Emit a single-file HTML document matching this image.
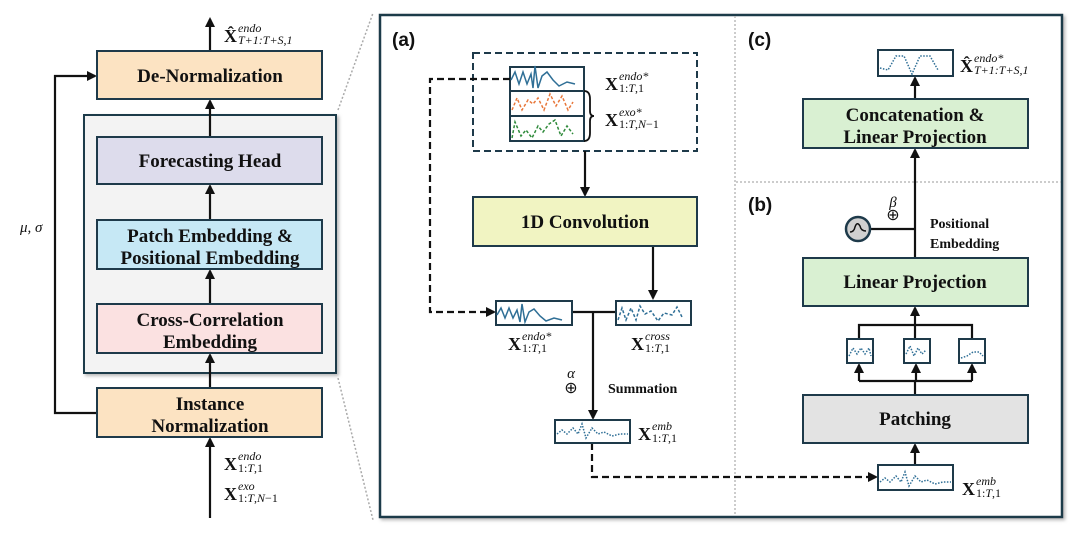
<!DOCTYPE html>
<html><head><meta charset="utf-8"><style>
html,body{margin:0;padding:0;background:#fff;}
svg{display:block;}
.b{font-family:"Liberation Serif",serif;font-weight:bold;font-size:19px;fill:#111;text-anchor:middle;}
.s{font-family:"Liberation Serif",serif;font-weight:bold;font-size:14px;fill:#111;}
.m{font-family:"Liberation Serif",serif;fill:#111;}
.X{font-family:"Liberation Serif",serif;font-weight:bold;font-size:18px;fill:#111;}
.sp{font-family:"Liberation Serif",serif;font-style:italic;font-size:12px;fill:#111;}
.sb{font-family:"Liberation Serif",serif;font-size:12px;fill:#111;}
.lbl{font-family:"Liberation Sans",sans-serif;font-weight:bold;font-size:19px;fill:#111;}
</style></head><body>
<svg width="1080" height="535" viewBox="0 0 1080 535" xmlns="http://www.w3.org/2000/svg">
<defs>
<marker id="ah" markerWidth="10" markerHeight="10" refX="8" refY="5" orient="auto" markerUnits="userSpaceOnUse"><path d="M0,0 L10,5 L0,10 z" fill="#111"/></marker>
<filter id="sh" x="-5%" y="-5%" width="115%" height="115%"><feDropShadow dx="2" dy="2" stdDeviation="1.5" flood-color="#888" flood-opacity="0.6"/></filter>
</defs>
<rect x="84" y="115" width="252" height="258" fill="#f3f3f3" stroke="#1e3a4a" stroke-width="2" filter="url(#sh)"/>
<g stroke="#111" stroke-width="2.2" fill="none">
<line x1="210" y1="51" x2="210" y2="19" marker-end="url(#ah)"/>
<polyline points="97,413 55,413 55,76 95,76" marker-end="url(#ah)"/>
<line x1="210" y1="137" x2="210" y2="101" marker-end="url(#ah)"/>
<line x1="210" y1="220" x2="210" y2="186" marker-end="url(#ah)"/>
<line x1="210" y1="304" x2="210" y2="271" marker-end="url(#ah)"/>
<line x1="210" y1="388" x2="210" y2="355" marker-end="url(#ah)"/>
<line x1="210" y1="518" x2="210" y2="439" marker-end="url(#ah)"/>
</g>
<g stroke="#aaa" stroke-width="1.5" stroke-dasharray="2,2">
<line x1="338" y1="110" x2="373" y2="13"/>
<line x1="338" y1="378" x2="373" y2="520"/>
</g>
<g stroke="#1e3a4a" stroke-width="2">
<rect x="97" y="51" width="225" height="48" fill="#fce3c2"/>
<rect x="97" y="137" width="225" height="47" fill="#dddcec"/>
<rect x="97" y="220" width="225" height="49" fill="#c6e8f5"/>
<rect x="97" y="304" width="225" height="49" fill="#fbe1e1"/>
<rect x="97" y="388" width="225" height="49" fill="#fce3c2"/>
</g>
<text class="b" x="210" y="82">De-Normalization</text>
<text class="b" x="210" y="167">Forecasting Head</text>
<text class="b" x="210" y="242">Patch Embedding &amp;</text>
<text class="b" x="210" y="264">Positional Embedding</text>
<text class="b" x="210" y="326">Cross-Correlation</text>
<text class="b" x="210" y="348">Embedding</text>
<text class="b" x="210" y="410">Instance</text>
<text class="b" x="210" y="432">Normalization</text>
<text class="m" x="20" y="232" font-size="15" font-style="italic">μ, σ</text>
<text class="X" x="224" y="42">X̂</text><text class="sp" x="238" y="32">endo</text><text class="sp" x="238" y="44">T+1:T+S,1</text>
<text class="X" x="224" y="470">X</text><text class="sp" x="238" y="460">endo</text><text class="sb" x="238" y="472">1:<tspan font-style="italic">T</tspan>,1</text>
<text class="X" x="224" y="500">X</text><text class="sp" x="238" y="490">exo</text><text class="sb" x="238" y="502">1:<tspan font-style="italic">T</tspan>,<tspan font-style="italic">N</tspan>−1</text>

<rect x="380" y="15" width="682" height="502" fill="#fff" stroke="#1e3a4a" stroke-width="2.5" filter="url(#sh)"/>
<g stroke="#bbb" stroke-width="1.5" stroke-dasharray="2,2">
<line x1="735" y1="16" x2="735" y2="516"/>
<line x1="736" y1="182" x2="1061" y2="182"/>
</g>
<text class="lbl" x="392" y="46">(a)</text>
<text class="lbl" x="748" y="46">(c)</text>
<text class="lbl" x="748" y="211">(b)</text>

<rect x="473" y="53" width="224" height="98" fill="none" stroke="#1e3a4a" stroke-width="2" stroke-dasharray="7,4"/>
<g stroke="#1e3a4a" stroke-width="2" fill="#fff">
<rect x="510" y="67" width="74" height="24"/>
<rect x="510" y="91" width="74" height="25"/>
<rect x="510" y="116" width="74" height="25"/>
</g>
<path d="M511,80 l4,-8 l4,12 l4,-12 l4,12 l4,-10 l2,14 l2,-22 l3,22 l4,-12 l5,-4 l6,8 l6,6 l8,-4 l8,2" stroke="#2f6f96" stroke-width="1.5" fill="none"/>
<path d="M512,110 l5,-12 l5,12 l6,-10 l5,4 l5,-6 l6,12 l6,-16 l6,12 l6,-10 l6,14 l5,-8" stroke="#e8773a" stroke-width="1.5" fill="none" stroke-dasharray="3,2"/>
<path d="M512,138 l3,-16 l6,14 l5,-6 l6,8 l6,-12 l5,6 l6,-8 l6,-4 l6,16 l6,-10 l6,8" stroke="#2e8a3a" stroke-width="1.5" fill="none" stroke-dasharray="3,2"/>
<path d="M584,91 q6,0 6,8 v12 q0,5 4,5 q-4,0 -4,5 v12 q0,8 -6,8" stroke="#111" stroke-width="1.8" fill="none"/>
<text class="X" x="605" y="90">X</text><text class="sp" x="619" y="80">endo*</text><text class="sb" x="619" y="92">1:<tspan font-style="italic">T</tspan>,1</text>
<text class="X" x="605" y="126">X</text><text class="sp" x="619" y="116">exo*</text><text class="sb" x="619" y="128">1:<tspan font-style="italic">T</tspan>,<tspan font-style="italic">N</tspan>−1</text>
<g stroke="#111" stroke-width="2.2" fill="none">
<line x1="585" y1="151" x2="585" y2="195" marker-end="url(#ah)"/>
<line x1="653" y1="246" x2="653" y2="298" marker-end="url(#ah)"/>
<line x1="572" y1="312" x2="616" y2="312"/>
<line x1="593" y1="312" x2="593" y2="418" marker-end="url(#ah)"/>
<polyline points="510,79 430,79 430,312 494,312" stroke-dasharray="7,4" marker-end="url(#ah)"/>
<polyline points="592,443 592,477 876,477" stroke-dasharray="7,4" marker-end="url(#ah)"/>
</g>
<rect x="473" y="197" width="224" height="49" fill="#f1f4c2" stroke="#1e3a4a" stroke-width="2"/>
<text class="b" x="585" y="228">1D Convolution</text>
<g stroke="#1e3a4a" stroke-width="2" fill="#fff">
<rect x="496" y="301" width="76" height="24"/>
<rect x="616" y="301" width="75" height="24"/>
<rect x="555" y="420" width="75" height="23"/>
</g>
<path d="M497,315 l4,-7 l4,10 l4,-10 l4,10 l4,-8 l3,12 l2,-18 l3,18 l4,-10 l5,-3 l6,7 l6,5 l8,-3 l8,2" stroke="#2f6f96" stroke-width="1.5" fill="none"/>
<path d="M618,320 l4,-12 l4,12 l5,-12 l5,12 l4,-14 l5,8 l6,-3 l7,10 l6,-8 l8,2 l5,-8 l5,10" stroke="#2f6f96" stroke-width="1.5" fill="none" stroke-dasharray="3,2"/>
<path d="M557,434 l5,-4 l5,4 l6,-6 l5,6 l4,-10 l4,14 l6,-10 l6,6 l6,-2 l8,4 l8,-2 l8,0" stroke="#2f6f96" stroke-width="1.5" fill="none" stroke-dasharray="1.5,1.5"/>
<text class="X" x="508" y="350">X</text><text class="sp" x="522" y="340">endo*</text><text class="sb" x="522" y="352">1:<tspan font-style="italic">T</tspan>,1</text>
<text class="X" x="631" y="350">X</text><text class="sp" x="645" y="340">cross</text><text class="sb" x="645" y="352">1:<tspan font-style="italic">T</tspan>,1</text>
<text class="m" x="571" y="378" font-size="15" font-style="italic" text-anchor="middle">α</text>
<text class="m" x="571" y="393" font-size="16" text-anchor="middle">⊕</text>
<text class="s" x="608" y="393">Summation</text>
<text class="X" x="638" y="440">X</text><text class="sp" x="652" y="430">emb</text><text class="sb" x="652" y="442">1:<tspan font-style="italic">T</tspan>,1</text>

<g stroke="#111" stroke-width="2.2" fill="none">
<line x1="915" y1="99" x2="915" y2="78" marker-end="url(#ah)"/>
<line x1="915" y1="258" x2="915" y2="150" marker-end="url(#ah)"/>
<line x1="870" y1="229" x2="915" y2="229"/>
<line x1="915" y1="325" x2="915" y2="308" marker-end="url(#ah)"/>
<polyline points="859,339 859,325 972,325 972,339"/>
<line x1="915" y1="339" x2="915" y2="325"/>
<line x1="915" y1="395" x2="915" y2="381"/>
<line x1="859" y1="381" x2="972" y2="381"/>
<line x1="859" y1="381" x2="859" y2="365" marker-end="url(#ah)"/>
<line x1="916" y1="381" x2="916" y2="365" marker-end="url(#ah)"/>
<line x1="972" y1="381" x2="972" y2="365" marker-end="url(#ah)"/>
<line x1="915" y1="465" x2="915" y2="445" marker-end="url(#ah)"/>
</g>
<g stroke="#1e3a4a" stroke-width="2">
<rect x="878" y="50" width="75" height="26" fill="#fff"/>
<rect x="803" y="99" width="225" height="49" fill="#d9f0d2"/>
<rect x="803" y="258" width="225" height="48" fill="#d9f0d2"/>
<rect x="803" y="395" width="225" height="48" fill="#e3e3e3"/>
<rect x="878" y="465" width="75" height="25" fill="#fff"/>
<rect x="847" y="339" width="26" height="24" fill="#fff"/>
<rect x="904" y="339" width="26" height="24" fill="#fff"/>
<rect x="959" y="339" width="26" height="24" fill="#fff"/>
</g>
<path d="M880,68 l8,2 l8,-14 l8,0 l8,18 l8,-18 l10,0 l8,14" stroke="#2f6f96" stroke-width="1.5" fill="none" stroke-dasharray="1.5,1.5"/>
<path d="M880,482 l5,-4 l5,4 l6,-6 l5,6 l4,-10 l4,14 l6,-10 l6,6 l6,-2 l8,4 l8,-2 l8,0" stroke="#2f6f96" stroke-width="1.5" fill="none" stroke-dasharray="1.5,1.5"/>
<path d="M849,356 l4,-8 l4,6 l4,-6 l4,6 l4,-6 l2,8 M906,354 l4,-8 l4,10 l4,-8 l4,6 l4,-4 M961,358 l6,-2 l6,-4 l6,0 l4,4" stroke="#2f6f96" stroke-width="1.5" fill="none" stroke-dasharray="1.5,1.5"/>
<circle cx="858" cy="229" r="12" fill="#d0d0d0" stroke="#1e3a4a" stroke-width="2.5"/>
<path d="M850,232 q4,0 5,-5 q2,-6 5,-1 q1,5 6,5" stroke="#111" stroke-width="1.5" fill="none"/>
<text class="m" x="893" y="207" font-size="15" font-style="italic" text-anchor="middle">β</text>
<text class="m" x="893" y="220" font-size="16" text-anchor="middle">⊕</text>
<text class="s" x="930" y="228">Positional</text>
<text class="s" x="930" y="248">Embedding</text>
<text class="b" x="915" y="121">Concatenation &amp;</text>
<text class="b" x="915" y="143">Linear Projection</text>
<text class="b" x="915" y="288">Linear Projection</text>
<text class="b" x="915" y="425">Patching</text>
<text class="X" x="960" y="72">X̂</text><text class="sp" x="974" y="62">endo*</text><text class="sp" x="974" y="74">T+1:T+S,1</text>
<text class="X" x="962" y="495">X</text><text class="sp" x="976" y="485">emb</text><text class="sb" x="976" y="497">1:<tspan font-style="italic">T</tspan>,1</text>
</svg>
</body></html>
